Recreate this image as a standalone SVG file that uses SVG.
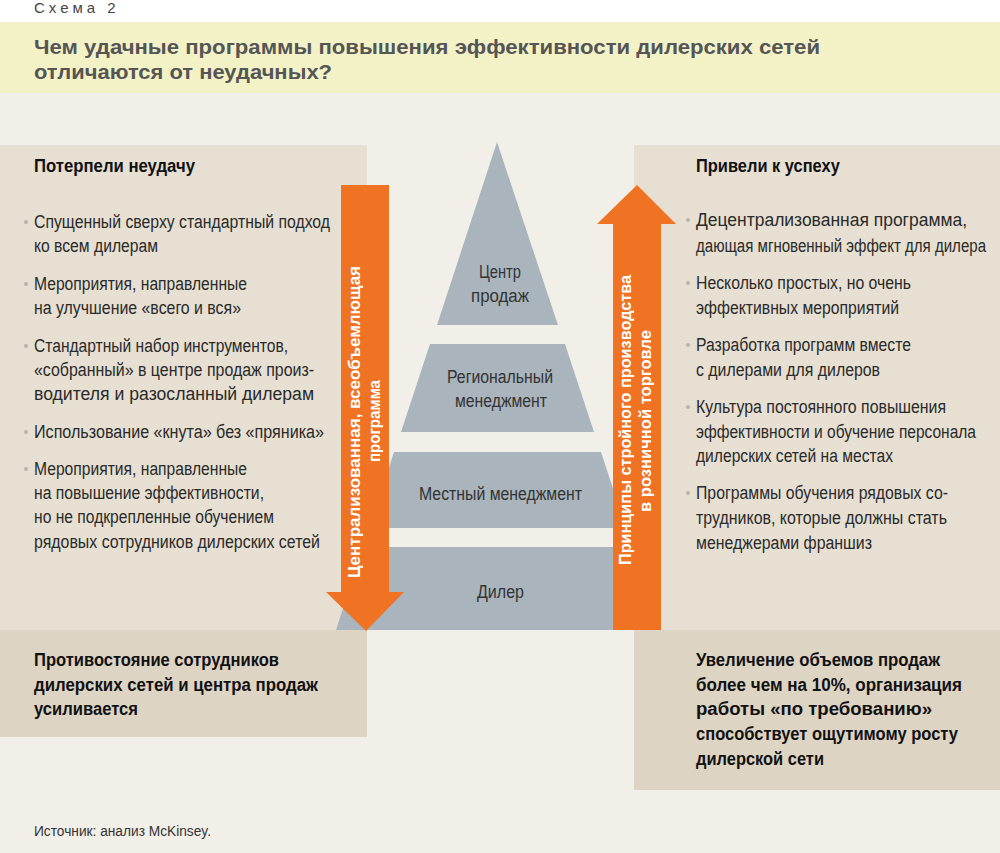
<svg xmlns="http://www.w3.org/2000/svg" width="1000" height="853" viewBox="0 0 1000 853">
<style>
text{font-family:"Liberation Sans",Arial,sans-serif;fill:#2a2a2a}
.b{font-size:18px}
.h{font-size:18px;font-weight:bold;fill:#111}
.p{font-size:18px;fill:#333}
.a{font-size:17px;font-weight:bold;fill:#fff}
.dot{fill:#b8b2a8}
.arr{fill:#f07324}
.pyr{fill:#a9b4bd}
</style>
<rect width="1000" height="853" fill="#fff"/>
<rect x="0" y="93" width="1000" height="760" fill="#f2efe9"/>
<rect x="0" y="22" width="1000" height="71" fill="#f3f1c6"/>
<text x="34" y="13" style="font-size:15px;letter-spacing:4px;fill:#444">Схема 2</text>
<text x="34" y="54" textLength="786" lengthAdjust="spacingAndGlyphs" style="font-size:21px;font-weight:900;fill:#555">Чем удачные программы повышения эффективности дилерских сетей</text>
<text x="34" y="79" textLength="298" lengthAdjust="spacingAndGlyphs" style="font-size:21px;font-weight:900;fill:#555">отличаются от неудачных?</text>

<g id="left-panel">
<rect x="0" y="145" width="367" height="485" fill="#e6dfd2"/>
<text class="h" x="34" y="172" textLength="161" lengthAdjust="spacingAndGlyphs">Потерпели неудачу</text>
<circle class="dot" cx="26" cy="222" r="2"/><circle class="dot" cx="26" cy="284" r="2"/><circle class="dot" cx="26" cy="346" r="2"/><circle class="dot" cx="26" cy="432" r="2"/><circle class="dot" cx="26" cy="469" r="2"/>
<text class="b" x="34" y="228" textLength="296" lengthAdjust="spacingAndGlyphs">Спущенный сверху стандартный подход</text>
<text class="b" x="34" y="252" textLength="124" lengthAdjust="spacingAndGlyphs">ко всем дилерам</text>
<text class="b" x="34" y="290" textLength="213" lengthAdjust="spacingAndGlyphs">Мероприятия, направленные</text>
<text class="b" x="34" y="314" textLength="207" lengthAdjust="spacingAndGlyphs">на улучшение «всего и вся»</text>
<text class="b" x="34" y="352" textLength="254" lengthAdjust="spacingAndGlyphs">Стандартный набор инструментов,</text>
<text class="b" x="34" y="376" textLength="280" lengthAdjust="spacingAndGlyphs">«собранный» в центре продаж произ-</text>
<text class="b" x="34" y="400" textLength="280" lengthAdjust="spacingAndGlyphs">водителя и разосланный дилерам</text>
<text class="b" x="34" y="438" textLength="290" lengthAdjust="spacingAndGlyphs">Использование «кнута» без «пряника»</text>
<text class="b" x="34" y="475" textLength="213" lengthAdjust="spacingAndGlyphs">Мероприятия, направленные</text>
<text class="b" x="34" y="499" textLength="230" lengthAdjust="spacingAndGlyphs">на повышение эффективности,</text>
<text class="b" x="34" y="523" textLength="240" lengthAdjust="spacingAndGlyphs">но не подкрепленные обучением</text>
<text class="b" x="34" y="548" textLength="286" lengthAdjust="spacingAndGlyphs">рядовых сотрудников дилерских сетей</text>
</g>
<g id="left-result">
<rect x="0" y="630" width="367" height="107" fill="#ddd4c4"/>
<text class="h" x="34" y="666" textLength="245" lengthAdjust="spacingAndGlyphs">Противостояние сотрудников</text>
<text class="h" x="34" y="691" textLength="284" lengthAdjust="spacingAndGlyphs">дилерских сетей и центра продаж</text>
<text class="h" x="34" y="715" textLength="104" lengthAdjust="spacingAndGlyphs">усиливается</text>
</g>

<g id="right-panel">
<rect x="634" y="145" width="366" height="485" fill="#e6dfd2"/>
<text class="h" x="696" y="172" textLength="144" lengthAdjust="spacingAndGlyphs">Привели к успеху</text>
<circle class="dot" cx="688" cy="220" r="2"/><circle class="dot" cx="688" cy="283" r="2"/><circle class="dot" cx="688" cy="345" r="2"/><circle class="dot" cx="688" cy="407" r="2"/><circle class="dot" cx="688" cy="493" r="2"/>
<text class="b" x="696" y="226" textLength="271" lengthAdjust="spacingAndGlyphs">Децентрализованная программа,</text>
<text class="b" x="696" y="252" textLength="290" lengthAdjust="spacingAndGlyphs">дающая мгновенный эффект для дилера</text>
<text class="b" x="696" y="289" textLength="215" lengthAdjust="spacingAndGlyphs">Несколько простых, но очень</text>
<text class="b" x="696" y="314" textLength="203" lengthAdjust="spacingAndGlyphs">эффективных мероприятий</text>
<text class="b" x="696" y="351" textLength="215" lengthAdjust="spacingAndGlyphs">Разработка программ вместе</text>
<text class="b" x="696" y="376" textLength="184" lengthAdjust="spacingAndGlyphs">с дилерами для дилеров</text>
<text class="b" x="696" y="413" textLength="250" lengthAdjust="spacingAndGlyphs">Культура постоянного повышения</text>
<text class="b" x="696" y="438" textLength="280" lengthAdjust="spacingAndGlyphs">эффективности и обучение персонала</text>
<text class="b" x="696" y="462" textLength="197" lengthAdjust="spacingAndGlyphs">дилерских сетей на местах</text>
<text class="b" x="696" y="499" textLength="252" lengthAdjust="spacingAndGlyphs">Программы обучения рядовых со-</text>
<text class="b" x="696" y="524" textLength="251" lengthAdjust="spacingAndGlyphs">трудников, которые должны стать</text>
<text class="b" x="696" y="549" textLength="176" lengthAdjust="spacingAndGlyphs">менеджерами франшиз</text>
</g>
<g id="right-result">
<rect x="634" y="630" width="366" height="160" fill="#ddd4c4"/>
<text class="h" x="696" y="666" textLength="244" lengthAdjust="spacingAndGlyphs">Увеличение объемов продаж</text>
<text class="h" x="696" y="691" textLength="266" lengthAdjust="spacingAndGlyphs">более чем на 10%, организация</text>
<text class="h" x="696" y="715" textLength="236" lengthAdjust="spacingAndGlyphs">работы «по требованию»</text>
<text class="h" x="696" y="740" textLength="262" lengthAdjust="spacingAndGlyphs">способствует ощутимому росту</text>
<text class="h" x="696" y="765" textLength="128" lengthAdjust="spacingAndGlyphs">дилерской сети</text>
</g>

<g id="pyramid">
<g id="level-center"><polygon class="pyr" points="497,142 558,325 437,325"/>
<text class="p" x="479" y="278" textLength="42" lengthAdjust="spacingAndGlyphs">Центр</text><text class="p" x="471" y="302" textLength="58" lengthAdjust="spacingAndGlyphs">продаж</text></g>
<g id="level-regional"><polygon class="pyr" points="430,344 565,344 594,432 401,432"/>
<text class="p" x="447" y="383" textLength="106" lengthAdjust="spacingAndGlyphs">Региональный</text><text class="p" x="455" y="407" textLength="92" lengthAdjust="spacingAndGlyphs">менеджмент</text></g>
<g id="level-local"><polygon class="pyr" points="394,452 601,452 626,528 369,528"/>
<text class="p" x="419" y="500" textLength="163" lengthAdjust="spacingAndGlyphs">Местный менеджмент</text></g>
<g id="level-dealer"><polygon class="pyr" points="363,547 633,547 660,630 336,630"/>
<text class="p" x="477" y="598" textLength="47" lengthAdjust="spacingAndGlyphs">Дилер</text></g>
</g>

<g id="connectors">
<g id="arrow-down"><polygon class="arr" points="341,185 389,185 389,592 404,592 366,631 326,592 341,592"/>
<text class="a" transform="translate(360,578) rotate(-90)" textLength="312" lengthAdjust="spacingAndGlyphs">Централизованная, всеобъемлющая</text>
<text class="a" transform="translate(380,462) rotate(-90)" textLength="82" lengthAdjust="spacingAndGlyphs">программа</text></g>
<g id="arrow-up"><polygon class="arr" points="613,630 661,630 661,224 676,224 637,185 597,224 613,224"/>
<text class="a" transform="translate(631,565) rotate(-90)" textLength="290" lengthAdjust="spacingAndGlyphs">Принципы стройного производства</text>
<text class="a" transform="translate(651,512) rotate(-90)" textLength="182" lengthAdjust="spacingAndGlyphs">в розничной торговле</text></g>
</g>

<text x="34" y="836" textLength="177" lengthAdjust="spacingAndGlyphs" style="font-size:14px;fill:#333">Источник: анализ McKinsey.</text>
</svg>
